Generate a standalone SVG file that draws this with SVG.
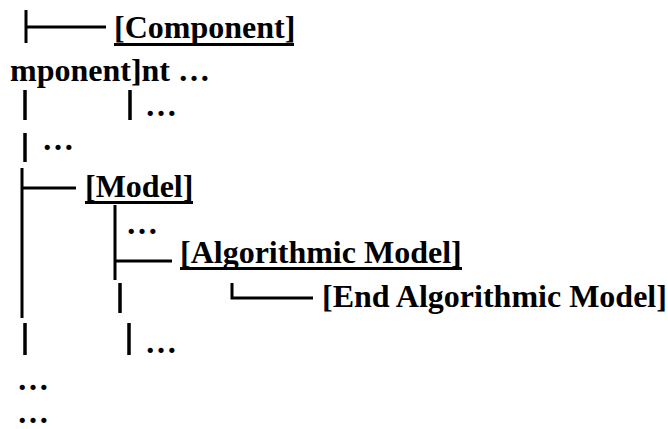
<svg xmlns="http://www.w3.org/2000/svg" width="668" height="429" viewBox="0 0 668 429">
<style>
.t{font-family:"Liberation Serif","Times New Roman",serif;font-weight:bold;font-size:32px;fill:#000}
.ul{fill:#000}
.box{stroke:#000;stroke-width:3;fill:none;stroke-linecap:butt}
.pipe{stroke:#000;stroke-width:3.5;fill:none}
</style>
<rect width="668" height="429" fill="#fff"/>
<g id="connectors">
<path class="box" d="M26 10V43M26 27H106"/>
<path class="pipe" d="M25 90V120M130 90V120"/>
<path class="pipe" d="M25 133V162"/>
<path class="box" d="M22 168V318M22 188H76"/>
<path class="box" d="M115 205V280M115 261H172"/>
<path class="pipe" d="M120 283V313"/>
<path class="box" d="M232 283V298H313"/>
<path class="pipe" d="M25 323V355M129 323V355"/>
</g>
<g id="component"><text class="t" x="114" y="38">[Component]</text><rect class="ul" x="114" y="43" width="180" height="3"/></g>
<g id="component-cont"><text class="t" x="10" y="81">mponent]nt …</text></g>
<g id="ellipsis-1"><text class="t" x="145" y="116">…</text></g>
<g id="ellipsis-2"><text class="t" x="42" y="150">…</text></g>
<g id="model"><text class="t" x="85" y="197">[Model]</text><rect class="ul" x="85" y="201" width="108" height="3"/></g>
<g id="ellipsis-3"><text class="t" x="126" y="234">…</text></g>
<g id="algorithmic-model"><text class="t" x="180" y="263">[Algorithmic Model]</text><rect class="ul" x="180" y="267" width="282" height="3"/></g>
<g id="end-algorithmic-model"><text class="t" x="322" y="307">[End Algorithmic Model]</text></g>
<g id="ellipsis-4"><text class="t" x="145" y="353">…</text></g>
<g id="ellipsis-tail"><text class="t" x="17" y="390">…<tspan x="17" y="423">…</tspan></text></g>
</svg>
